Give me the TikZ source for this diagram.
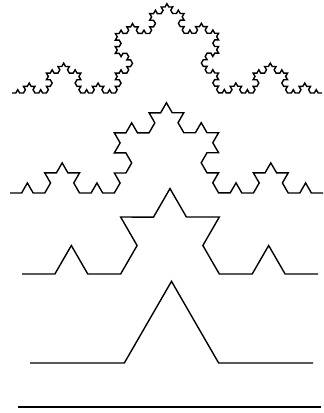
\documentclass[tikz,border=0pt]{standalone}
\usetikzlibrary{decorations.fractals}

\begin{document}
\begin{tikzpicture}[
    x=1pt, y=1pt,
    curve/.style={line width=1.4pt, line join=miter, decoration={Koch snowflake}}
]
\useasboundingbox (0,0) rectangle (324,413);

\coordinate (A0) at (18,6);
\coordinate (B0) at (321,6);
\coordinate (A1) at (30,50);
\coordinate (B1) at (313,50);
\coordinate (A2) at (22,139);
\coordinate (B2) at (318,139);
\coordinate (A3) at (10,220);
\coordinate (B3) at (323,220);
\coordinate (A4) at (12,320);
\coordinate (B4) at (322,320);

\draw[curve] (A0) -- (B0);
\draw[curve] decorate{ (A1) -- (B1) };
\draw[curve] decorate{ decorate{ (A2) -- (B2) } };
\draw[curve] decorate{ decorate{ decorate{ (A3) -- (B3) } } };
\draw[curve] decorate{ decorate{ decorate{ decorate{ (A4) -- (B4) } } } };

\end{tikzpicture}
\end{document}
